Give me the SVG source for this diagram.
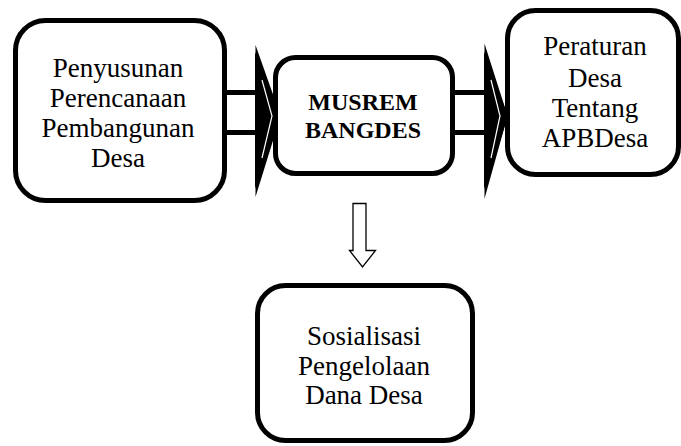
<svg xmlns="http://www.w3.org/2000/svg" width="681" height="446" viewBox="0 0 681 446">
<style>
.box{fill:#fff;stroke:#000;stroke-width:5}
.t{font-family:'Liberation Serif','Times New Roman',Tinos,serif;font-size:27px;fill:#000;text-anchor:middle}
.b{font-family:'Liberation Serif','Times New Roman',Tinos,serif;font-size:24px;font-weight:bold;fill:#000;text-anchor:middle}
.fat{fill:#fff;stroke:#000;stroke-width:5;stroke-linejoin:miter;stroke-miterlimit:20}
.head{fill:#000;stroke:#000;stroke-width:2;stroke-linejoin:miter;stroke-miterlimit:20}
.notch{fill:none;stroke:#fff;stroke-width:1.2}
.thin{fill:#fff;stroke:#000;stroke-width:1.3;stroke-linejoin:miter}
</style>
<rect width="681" height="446" fill="#fff"/>
<g id="connectors">
<polygon class="fat" points="224,92.5 258,92.5 258,59.5 278,116 258,180.5 258,132.5 224,132.5"/>
<polygon class="head" points="256,57 280,116 256,183"/>
<polyline class="notch" points="262,80 272,116 262,158"/>
<polygon class="fat" points="452,92.5 487,92.5 487,59.5 505,116 487,180.5 487,132.5 452,132.5"/>
<polygon class="head" points="485,57 507,116 485,183"/>
<polyline class="notch" points="491,80 500,116 491,158"/>
<polygon class="thin" points="353,203.5 366,203.5 366,250.5 375.5,250.5 362.5,267 349.5,250.5 353,250.5"/>
</g>
<g id="node1">
<rect class="box" x="15.5" y="20.5" width="209" height="180" rx="30"/>
<text class="t" x="118" y="77">Penyusunan</text>
<text class="t" x="118" y="107">Perencanaan</text>
<text class="t" x="118" y="137">Pembangunan</text>
<text class="t" x="118" y="167">Desa</text>
</g>
<g id="node2">
<rect class="box" x="275.5" y="57.5" width="177" height="116" rx="20"/>
<text class="b" x="363" y="110">MUSREM</text>
<text class="b" x="363" y="138">BANGDES</text>
</g>
<g id="node3">
<rect class="box" x="507.5" y="10.5" width="171" height="164" rx="28"/>
<text class="t" x="595" y="55">Peraturan</text>
<text class="t" x="595" y="87">Desa</text>
<text class="t" x="595" y="117">Tentang</text>
<text class="t" x="595" y="147">APBDesa</text>
</g>
<g id="node4">
<rect class="box" x="257.5" y="285.5" width="215" height="155" rx="28"/>
<text class="t" x="364" y="345">Sosialisasi</text>
<text class="t" x="364" y="375">Pengelolaan</text>
<text class="t" x="364" y="404">Dana Desa</text>
</g>
</svg>
